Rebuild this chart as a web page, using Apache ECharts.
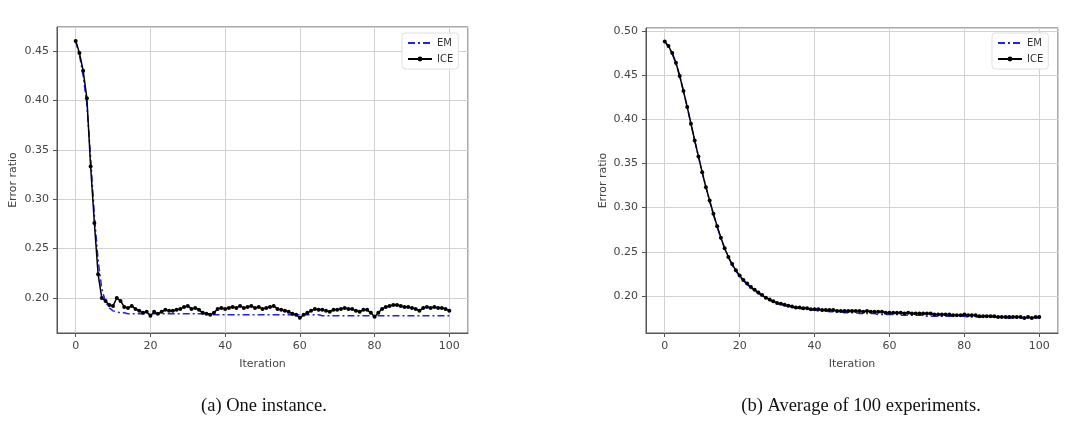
<!DOCTYPE html>
<html>
<head>
<meta charset="utf-8">
<script src="https://cdn.jsdelivr.net/npm/echarts@6/dist/echarts.min.js"></script>
<style>
  html, body { margin: 0; padding: 0; background: #fff; }
  #chart { width: 1092px; height: 435px; }
</style>
</head>
<body>
<div id="chart"></div>
<script>
// iteration index 0..100
const iterations = Array.from({ length: 101 }, (_, i) => i);

// (a) one instance
const emOne = [
  0.460, 0.446, 0.425, 0.396, 0.342, 0.284, 0.238, 0.209, 0.196, 0.190,
  0.187, 0.186, 0.185, 0.185, 0.184, 0.184, 0.184, 0.184, 0.184, 0.184,
  0.184, 0.184, 0.184, 0.184, 0.184, 0.184, 0.184, 0.184, 0.184, 0.184,
  0.184, 0.184, 0.184, 0.184, 0.184, 0.184, 0.184, 0.183, 0.183, 0.183,
  0.183, 0.183, 0.183, 0.183, 0.183, 0.183, 0.183, 0.183, 0.183, 0.183,
  0.183, 0.183, 0.183, 0.183, 0.183, 0.183, 0.183, 0.183, 0.183, 0.183,
  0.183, 0.183, 0.183, 0.183, 0.183, 0.183, 0.182, 0.182, 0.182, 0.182,
  0.182, 0.182, 0.182, 0.182, 0.182, 0.182, 0.182, 0.182, 0.182, 0.182,
  0.182, 0.182, 0.182, 0.182, 0.182, 0.182, 0.182, 0.182, 0.182, 0.182,
  0.182, 0.182, 0.182, 0.182, 0.182, 0.182, 0.182, 0.182, 0.182, 0.182,
  0.182
];
const iceOne = [
  0.460, 0.448, 0.430, 0.402, 0.333, 0.276, 0.224, 0.200, 0.197, 0.193,
  0.192, 0.200, 0.197, 0.191, 0.190, 0.192, 0.189, 0.187, 0.185, 0.186,
  0.182, 0.186, 0.184, 0.186, 0.188, 0.187, 0.187, 0.188, 0.189, 0.191,
  0.192, 0.189, 0.190, 0.188, 0.185, 0.184, 0.183, 0.185, 0.189, 0.190,
  0.189, 0.190, 0.191, 0.190, 0.192, 0.190, 0.191, 0.192, 0.190, 0.191,
  0.189, 0.190, 0.191, 0.192, 0.189, 0.188, 0.187, 0.186, 0.184, 0.183,
  0.180, 0.183, 0.185, 0.187, 0.189, 0.188, 0.188, 0.187, 0.186, 0.188,
  0.188, 0.189, 0.190, 0.189, 0.189, 0.187, 0.186, 0.188, 0.188, 0.185,
  0.181, 0.185, 0.189, 0.191, 0.192, 0.193, 0.193, 0.192, 0.191, 0.191,
  0.190, 0.189, 0.187, 0.190, 0.191, 0.190, 0.191, 0.190, 0.190, 0.189,
  0.187
];

// (b) average of 100 experiments
const emAvg = [
  0.488, 0.482, 0.474, 0.463, 0.449, 0.432, 0.414, 0.395, 0.376, 0.358,
  0.340, 0.323, 0.307, 0.292, 0.278, 0.265, 0.254, 0.244, 0.235, 0.228,
  0.222, 0.217, 0.213, 0.209, 0.206, 0.203, 0.200, 0.197, 0.195, 0.193,
  0.191, 0.190, 0.189, 0.188, 0.187, 0.186, 0.186, 0.185, 0.185, 0.184,
  0.184, 0.183, 0.183, 0.183, 0.182, 0.182, 0.182, 0.182, 0.181, 0.181,
  0.181, 0.181, 0.180, 0.180, 0.180, 0.180, 0.180, 0.179, 0.179, 0.179,
  0.179, 0.179, 0.179, 0.178, 0.178, 0.178, 0.178, 0.178, 0.178, 0.178,
  0.177, 0.177, 0.177, 0.177, 0.177, 0.177, 0.177, 0.177, 0.177, 0.177,
  0.177, 0.176, 0.176, 0.176, 0.176, 0.176, 0.176, 0.176, 0.176, 0.176,
  0.176, 0.175, 0.175, 0.175, 0.175, 0.175, 0.175, 0.175, 0.175, 0.175,
  0.175
];
const iceAvg = [
  0.488, 0.483, 0.475, 0.464, 0.449, 0.432, 0.414, 0.395, 0.376, 0.358,
  0.340, 0.323, 0.308, 0.293, 0.279, 0.266, 0.254, 0.244, 0.236, 0.229,
  0.223, 0.218, 0.214, 0.210, 0.207, 0.204, 0.201, 0.198, 0.196, 0.194,
  0.192, 0.191, 0.190, 0.189, 0.188, 0.187, 0.187, 0.186, 0.186, 0.185,
  0.185, 0.185, 0.184, 0.184, 0.184, 0.184, 0.183, 0.183, 0.183, 0.183,
  0.183, 0.183, 0.183, 0.182, 0.183, 0.182, 0.182, 0.182, 0.182, 0.181,
  0.181, 0.181, 0.181, 0.181, 0.180, 0.181, 0.180, 0.180, 0.180, 0.180,
  0.180, 0.180, 0.179, 0.179, 0.179, 0.179, 0.179, 0.178, 0.178, 0.178,
  0.179, 0.178, 0.178, 0.178, 0.177, 0.177, 0.177, 0.177, 0.177, 0.176,
  0.176, 0.176, 0.176, 0.176, 0.176, 0.176, 0.175, 0.176, 0.175, 0.176,
  0.176
];

// axis ranges (matplotlib adds 5% margin)
const xRange = [-5, 105];
const yRangeOne = [0.1646, 0.4742];
const yRangeAvg = [0.158, 0.5034];

const captions = ["(a) One instance.", "(b) Average of 100 experiments."];

const pairs = (ys) => iterations.map((x, i) => [x, ys[i]]);

const textColor = "#444";
const frameColor = "#555";

const makeX = (gridIndex) => ({
  type: "value",
  gridIndex: gridIndex,
  min: xRange[0],
  max: xRange[1],
  splitNumber: 5,
  name: "Iteration",
  nameLocation: "middle",
  nameGap: 26,
  nameTextStyle: { color: textColor, fontSize: 11, fontFamily: "DejaVu Sans" },
  axisLine: { show: true, onZero: false, lineStyle: { color: frameColor, width: 1 } },
  axisTick: { show: true, length: 4, inside: false, lineStyle: { color: frameColor } },
  axisLabel: {
    color: textColor,
    fontSize: 11,
    fontFamily: "DejaVu Sans",
    margin: 8,
    showMinLabel: false,
    showMaxLabel: false,
  },
  splitLine: { show: true, lineStyle: { color: "#d2d2d2", width: 1 } },
});

const makeY = (gridIndex, range, nameGap) => ({
  type: "value",
  gridIndex: gridIndex,
  position: "left",
  min: range[0],
  max: range[1],
  splitNumber: 6,
  name: "Error ratio",
  nameLocation: "middle",
  nameGap: nameGap,
  nameRotate: 90,
  nameTextStyle: { color: textColor, fontSize: 11, fontFamily: "DejaVu Sans" },
  axisLine: { show: true, onZero: false, lineStyle: { color: frameColor, width: 1 } },
  axisTick: { show: true, length: 4, inside: false, lineStyle: { color: frameColor } },
  axisLabel: {
    color: textColor,
    fontSize: 11,
    fontFamily: "DejaVu Sans",
    margin: 8,
    showMinLabel: false,
    showMaxLabel: false,
    formatter: (v) => v.toFixed(2),
  },
  splitLine: { show: true, lineStyle: { color: "#d2d2d2", width: 1 } },
});

const emSeries = (idx, ys) => ({
  name: "EM",
  type: "line",
  xAxisIndex: idx,
  yAxisIndex: idx,
  data: pairs(ys),
  symbol: "none",
  lineStyle: { color: "#1f1fff", width: 1.5, type: [7, 3, 2, 3] },
  itemStyle: { color: "#1f1fff" },
  z: 2,
});

const iceSeries = (idx, ys) => ({
  name: "ICE",
  type: "line",
  xAxisIndex: idx,
  yAxisIndex: idx,
  data: pairs(ys),
  symbol: "circle",
  symbolSize: 4,
  showAllSymbol: true,
  lineStyle: { color: "#000", width: 1.5 },
  itemStyle: { color: "#000" },
  z: 3,
});

const makeLegend = (left) => ({
  left: left,
  top: 33,
  orient: "vertical",
  data: [{ name: "EM", itemStyle: { opacity: 0 } }, { name: "ICE" }],
  itemWidth: 24,
  itemHeight: 6,
  itemGap: 6,
  padding: [5, 5, 5, 5],
  backgroundColor: "#fff",
  borderColor: "#e0e0e0",
  borderWidth: 1,
  borderRadius: 3,
  textStyle: { color: "#333", fontSize: 10, fontFamily: "DejaVu Sans" },
});

const chart = echarts.init(document.getElementById("chart"));

chart.setOption({
  animation: false,
  backgroundColor: "#fff",
  grid: [
    { left: 57, top: 27, width: 411, height: 306, show: true, borderColor: frameColor, borderWidth: 1 },
    { left: 646, top: 28, width: 412, height: 305, show: true, borderColor: frameColor, borderWidth: 1 },
  ],
  xAxis: [makeX(0), makeX(1)],
  yAxis: [makeY(0, yRangeOne, 38), makeY(1, yRangeAvg, 37)],
  legend: [makeLegend(402), makeLegend(992)],
  series: [
    emSeries(0, emOne),
    iceSeries(0, iceOne),
    emSeries(1, emAvg),
    iceSeries(1, iceAvg),
  ],
  graphic: [
    {
      type: "text",
      x: 264,
      y: 406,
      style: {
        text: captions[0],
        font: "18.5px 'Liberation Serif'",
        fill: "#111",
        align: "center",
        verticalAlign: "middle",
      },
    },
    {
      type: "text",
      x: 861,
      y: 406,
      style: {
        text: captions[1],
        font: "18.5px 'Liberation Serif'",
        fill: "#111",
        align: "center",
        verticalAlign: "middle",
      },
    },
  ],
});

window.addEventListener("resize", () => chart.resize());
</script>
</body>
</html>
